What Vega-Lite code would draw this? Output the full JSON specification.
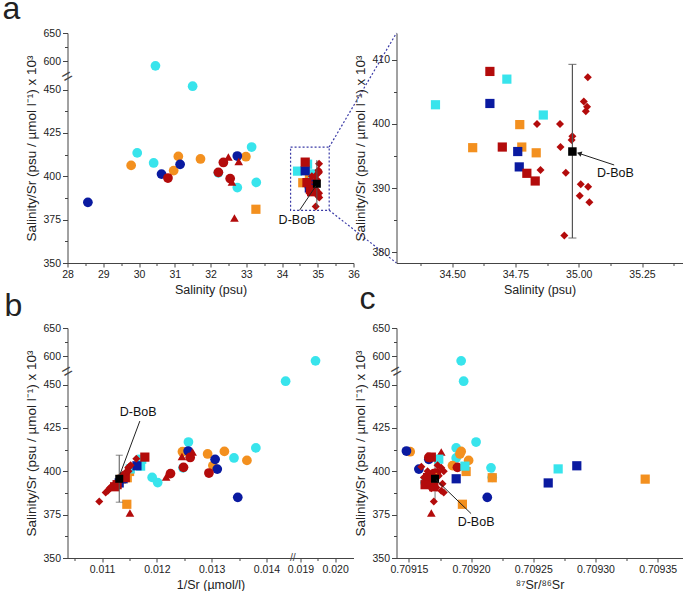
{
  "$schema": "https://vega.github.io/schema/vega-lite/v6.json",
  "background": "white",
  "padding": {"left": 2.5, "top": -7, "right": 2, "bottom": 0},
  "bounds": "flush",
  "columns": 2,
  "spacing": {"row": 65, "column": 43},
  "config": {
    "font": "Liberation Sans",
    "view": {"stroke": null},
    "axis": {"labelFont": "Liberation Sans", "labelFontSize": 10.5, "labelColor": "#222", "titleFont": "Liberation Sans", "titleFontSize": 12.5, "titleFontWeight": "normal", "titleColor": "#222", "domainColor": "#444", "tickColor": "#444", "grid": false, "tickSize": 4, "labelPadding": 2, "titlePadding": 4, "labelOverlap": false, "labelFlush": false, "tickCount": 60},
    "axisY": {"titleFontSize": 13.5},
    "title": {"font": "Liberation Sans", "fontSize": 32, "fontWeight": "normal", "color": "#222"}
  },
  "datasets": {
    "pts": [
      {"c":"cyan","s":"circle","S":30.46,"R":592,"inv":0.019435,"iso":0.709192},
      {"c":"cyan","s":"circle","S":31.50,"R":452,"inv":0.014349,"iso":0.709194},
      {"c":"cyan","s":"circle","S":29.95,"R":413.5,"inv":0.013806,"iso":0.709188},
      {"c":"cyan","s":"circle","S":30.41,"R":407.7,"inv":0.013407,"iso":0.709188},
      {"c":"cyan","s":"circle","S":32.22,"R":402,"inv":0.012477,"iso":0.709216},
      {"c":"cyan","s":"circle","S":32.75,"R":393.5,"inv":0.012015,"iso":0.709163},
      {"c":"cyan","s":"circle","S":33.15,"R":416.9,"inv":0.012576,"iso":0.709204},
      {"c":"cyan","s":"circle","S":33.28,"R":396.5,"inv":0.011914,"iso":0.709217},
      {"c":"orange","s":"circle","S":29.78,"R":406.3,"inv":0.013643,"iso":0.709198},
      {"c":"orange","s":"circle","S":30.97,"R":403.3,"inv":0.013022,"iso":0.709185},
      {"c":"orange","s":"circle","S":31.10,"R":411.5,"inv":0.013232,"iso":0.709192},
      {"c":"orange","s":"circle","S":31.72,"R":410,"inv":0.012926,"iso":0.709191},
      {"c":"orange","s":"circle","S":32.99,"R":411.3,"inv":0.012467,"iso":0.709151},
      {"c":"blue","s":"circle","S":28.57,"R":385,"inv":0.013476,"iso":0.709213},
      {"c":"blue","s":"circle","S":30.63,"R":401.3,"inv":0.013102,"iso":0.709158},
      {"c":"blue","s":"circle","S":31.15,"R":406.9,"inv":0.013063,"iso":0.709166},
      {"c":"blue","s":"circle","S":32.75,"R":411.7,"inv":0.012571,"iso":0.709148},
      {"c":"red","s":"circle","S":30.81,"R":399,"inv":0.012950,"iso":0.709172},
      {"c":"red","s":"circle","S":32.22,"R":402.3,"inv":0.012486,"iso":0.709189},
      {"c":"red","s":"circle","S":32.36,"R":408,"inv":0.012608,"iso":0.709166},
      {"c":"red","s":"circle","S":32.55,"R":398.7,"inv":0.012249,"iso":0.709170},
      {"c":"red","s":"triangle","S":32.50,"R":411.2,"inv":0.012652,"iso":0.709176},
      {"c":"red","s":"triangle","S":32.60,"R":396.7,"inv":0.012169,"iso":0.709165},
      {"c":"red","s":"triangle","S":32.67,"R":376,"inv":0.011509,"iso":0.709168},
      {"c":"red","s":"triangle","S":32.79,"R":408.5,"inv":0.012458,"iso":0.709174},
      {"c":"orange","s":"square","S":33.27,"R":381,"inv":0.011452,"iso":0.709193},
      {"c":"orange","s":"square","S":34.767,"R":399.9,"inv":0.011502,"iso":0.709196},
      {"c":"orange","s":"square","S":34.581,"R":396.3,"inv":0.011460,"iso":0.709217},
      {"c":"orange","s":"square","S":34.775,"R":396.4,"inv":0.011399,"iso":0.709170},
      {"c":"orange","s":"square","S":34.832,"R":395.5,"inv":0.011355,"iso":0.709340},
      {"c":"cyan","s":"square","S":34.716,"R":407.0,"inv":0.011724,"iso":0.709174},
      {"c":"cyan","s":"square","S":34.434,"R":403.0,"inv":0.011704,"iso":0.709195},
      {"c":"cyan","s":"square","S":34.86,"R":401.4,"inv":0.011515,"iso":0.709270},
      {"c":"blue","s":"square","S":34.649,"R":403.2,"inv":0.011637,"iso":0.709285},
      {"c":"blue","s":"square","S":34.759,"R":395.7,"inv":0.011384,"iso":0.709188},
      {"c":"blue","s":"square","S":34.765,"R":393.3,"inv":0.011313,"iso":0.709262},
      {"c":"red","s":"square","S":34.649,"R":408.2,"inv":0.011781,"iso":0.709168},
      {"c":"red","s":"square","S":34.698,"R":396.4,"inv":0.011424,"iso":0.709165},
      {"c":"red","s":"square","S":34.795,"R":392.3,"inv":0.011275,"iso":0.709163},
      {"c":"red","s":"square","S":34.828,"R":391.1,"inv":0.011230,"iso":0.709170},
      {"c":"red","s":"diamond","S":35.036,"R":407.3,"inv":0.011625,"iso":0.709167},
      {"c":"red","s":"diamond","S":35.02,"R":403.5,"inv":0.011522,"iso":0.709173},
      {"c":"red","s":"diamond","S":35.033,"R":402.7,"inv":0.011495,"iso":0.709160},
      {"c":"red","s":"diamond","S":35.028,"R":402.0,"inv":0.011477,"iso":0.709176},
      {"c":"red","s":"diamond","S":34.835,"R":400.0,"inv":0.011483,"iso":0.709178},
      {"c":"red","s":"diamond","S":34.926,"R":400.0,"inv":0.011453,"iso":0.709165},
      {"c":"red","s":"diamond","S":34.975,"R":398.1,"inv":0.011382,"iso":0.709169},
      {"c":"red","s":"diamond","S":34.972,"R":397.5,"inv":0.011366,"iso":0.709174},
      {"c":"red","s":"diamond","S":34.928,"R":396.4,"inv":0.011349,"iso":0.709162},
      {"c":"red","s":"diamond","S":34.849,"R":392.8,"inv":0.011271,"iso":0.709177},
      {"c":"red","s":"diamond","S":34.949,"R":392.4,"inv":0.011228,"iso":0.709166},
      {"c":"red","s":"diamond","S":35.008,"R":390.6,"inv":0.011157,"iso":0.709172},
      {"c":"red","s":"diamond","S":35.037,"R":390.2,"inv":0.011137,"iso":0.709168},
      {"c":"red","s":"diamond","S":35.004,"R":388.8,"inv":0.011107,"iso":0.709176},
      {"c":"red","s":"diamond","S":35.042,"R":387.8,"inv":0.011067,"iso":0.709178},
      {"c":"red","s":"diamond","S":34.943,"R":382.6,"inv":0.010949,"iso":0.709170}
    ],
    "dbob": [{"S":34.975,"R":395.7,"inv":0.011314,"iso":0.709171,"lo":382.2,"hi":409.3}]
  },
  "concat": [
    {
      "width": 286, "height": 230,
      "title": {"text": "a", "anchor": "start", "frame": "group", "dx": -65, "offset": -30, "baseline": "bottom"},
      "layer": [
        {
          "data": {"values": [{"x1":34.24,"x2":35.32,"y1":380.4,"y2":416.9}]},
          "mark": {"type": "rect", "fill": null, "stroke": "#3a3aa6", "strokeDash": [2, 2], "strokeWidth": 1.2},
          "encoding": {
            "x": {"field": "x1", "type": "quantitative",
              "scale": {"domain": [28, 36], "nice": false, "zero": false},
              "axis": {"values": [28,28.5,29,29.5,30,30.5,31,31.5,32,32.5,33,33.5,34,34.5,35,35.5,36], "format": ".0f", "tickCount": 60,
                "labelExpr": "datum.value % 1 == 0 ? datum.label : ''",
                "tickSize": {"condition": {"test": "datum.value % 1 == 0", "value": 4}, "value": 2.5},
                "title": "Salinity (psu)"}},
            "x2": {"field": "x2"},
            "y": {"field": "y1", "type": "quantitative",
              "scale": {"domain": [350, 457.3, 572.3, 650], "range": [230, 44, 44, 0], "nice": false, "zero": false},
              "axis": {"values": [350,362.5,375,387.5,400,412.5,425,437.5,450,600,625,650], "format": ".0f", "tickCount": 60,
                "labelExpr": "(datum.value % 25 == 0 && datum.value != 625) ? datum.label : ''",
                "tickSize": {"condition": {"test": "datum.value % 25 == 0 && datum.value != 625", "value": 5}, "value": 3},
                "title": "Salinity/Sr (psu / µmol l⁻¹) x 10³"}},
            "y2": {"field": "y2"}
          }
        },
        {
          "data": {"values": [{"x1":35.32,"x2":37.203,"y1":416.9,"y2":650},{"x1":35.32,"x2":37.203,"y1":380.4,"y2":350}]},
          "mark": {"type": "rule", "stroke": "#3a3aa6", "strokeDash": [2, 2], "strokeWidth": 1.2},
          "encoding": {"x": {"field": "x1", "type": "quantitative"}, "x2": {"field": "x2"}, "y": {"field": "y1", "type": "quantitative"}, "y2": {"field": "y2"}}
        },
        {
          "data": {"name": "pts"},
          "mark": {"type": "point", "filled": true, "opacity": 1},
          "encoding": {
            "x": {"field": "S", "type": "quantitative"},
            "y": {"field": "R", "type": "quantitative"},
            "color": {"field": "c", "type": "nominal", "legend": null, "scale": {"domain": ["cyan","orange","blue","red"], "range": ["#38E4EC","#F3901F","#0A1AA0","#B30B0B"]}},
            "shape": {"field": "s", "type": "nominal", "legend": null, "scale": {"domain": ["circle","square","triangle","diamond"], "range": ["circle","square","triangle-up","diamond"]}},
            "size": {"field": "s", "type": "nominal", "legend": null, "scale": {"domain": ["circle","square","triangle","diamond"], "range": [95, 64, 80, 80]}}
          }
        },
        {
          "data": {"name": "dbob"},
          "mark": {"type": "rule", "stroke": "#555", "strokeWidth": 1},
          "encoding": {"x": {"field": "S", "type": "quantitative"}, "y": {"field": "lo", "type": "quantitative"}, "y2": {"field": "hi"}}
        },
        {
          "data": {"name": "dbob"},
          "mark": {"type": "square", "color": "#000", "size": 64, "opacity": 1},
          "encoding": {"x": {"field": "S", "type": "quantitative"}, "y": {"field": "R", "type": "quantitative"}}
        },
        {
          "data": {"values": [{"x1":34.49,"x2":34.95,"y1":380.4,"y2":394.5}]},
          "mark": {"type": "rule", "stroke": "#222", "strokeWidth": 1},
          "encoding": {"x": {"field": "x1", "type": "quantitative"}, "x2": {"field": "x2"}, "y": {"field": "y1", "type": "quantitative"}, "y2": {"field": "y2"}}
        },
        {
          "data": {"values": [{"x": 34.42, "y": 374.6, "t": "D-BoB"}]},
          "mark": {"type": "text", "fontSize": 12.5, "color": "#111", "align": "center", "baseline": "middle"},
          "encoding": {"x": {"field": "x", "type": "quantitative"}, "y": {"field": "y", "type": "quantitative"}, "text": {"field": "t"}}
        },
        {
          "data": {"values": [{"x": 28, "y": 515, "t": "="}]},
          "mark": {"type": "text", "fontSize": 18, "color": "#444", "align": "center", "baseline": "middle", "angle": -30},
          "encoding": {"x": {"field": "x", "type": "quantitative"}, "y": {"field": "y", "type": "quantitative"}, "text": {"field": "t"}}
        }
      ]
    },
    {
      "width": 286, "height": 230,
      "layer": [
        {
          "data": {"name": "pts"},
          "transform": [{"filter": "datum.S > 34.3"}],
          "mark": {"type": "point", "filled": true, "opacity": 1},
          "encoding": {
            "x": {"field": "S", "type": "quantitative",
              "scale": {"domain": [34.28, 35.41], "nice": false, "zero": false},
              "axis": {"values": [34.375,34.5,34.625,34.75,34.875,35,35.125,35.25,35.375], "format": ".2f", "tickCount": 60,
                "labelExpr": "abs(datum.value*4 - round(datum.value*4)) < 0.001 ? datum.label : ''",
                "tickSize": {"condition": {"test": "abs(datum.value*4 - round(datum.value*4)) < 0.001", "value": 4}, "value": 2.5},
                "title": "Salinity (psu)"}},
            "y": {"field": "R", "type": "quantitative",
              "scale": {"domain": [378.3, 414.2], "nice": false, "zero": false},
              "axis": {"values": [380,385,390,395,400,405,410], "format": ".0f", "tickCount": 60,
                "labelExpr": "datum.value % 10 == 0 ? datum.label : ''",
                "tickSize": {"condition": {"test": "datum.value % 10 == 0", "value": 5}, "value": 3},
                "title": "Salinity/Sr (psu / µmol l⁻¹) x 10³"}},
            "color": {"field": "c", "type": "nominal", "legend": null, "scale": {"domain": ["cyan","orange","blue","red"], "range": ["#38E4EC","#F3901F","#0A1AA0","#B30B0B"]}},
            "shape": {"field": "s", "type": "nominal", "legend": null, "scale": {"domain": ["circle","square","triangle","diamond"], "range": ["circle","square","triangle-up","diamond"]}},
            "size": {"field": "s", "type": "nominal", "legend": null, "scale": {"domain": ["circle","square","triangle","diamond"], "range": [95, 64, 80, 80]}}
          }
        },
        {
          "data": {"name": "dbob"},
          "mark": {"type": "rule", "stroke": "#555", "strokeWidth": 1.2},
          "encoding": {"x": {"field": "S", "type": "quantitative"}, "y": {"field": "lo", "type": "quantitative"}, "y2": {"field": "hi"}}
        },
        {
          "data": {"name": "dbob"},
          "mark": {"type": "tick", "orient": "horizontal", "color": "#555", "size": 8, "thickness": 1.2},
          "encoding": {"x": {"field": "S", "type": "quantitative"}, "y": {"field": "lo", "type": "quantitative"}}
        },
        {
          "data": {"name": "dbob"},
          "mark": {"type": "tick", "orient": "horizontal", "color": "#555", "size": 8, "thickness": 1.2},
          "encoding": {"x": {"field": "S", "type": "quantitative"}, "y": {"field": "hi", "type": "quantitative"}}
        },
        {
          "data": {"name": "dbob"},
          "mark": {"type": "square", "color": "#000", "size": 72, "opacity": 1},
          "encoding": {"x": {"field": "S", "type": "quantitative"}, "y": {"field": "R", "type": "quantitative"}}
        },
        {
          "data": {"values": [{"x1":35.14,"x2":34.998,"y1":393.6,"y2":395.45}]},
          "mark": {"type": "rule", "stroke": "#222", "strokeWidth": 1},
          "encoding": {"x": {"field": "x1", "type": "quantitative"}, "x2": {"field": "x2"}, "y": {"field": "y1", "type": "quantitative"}, "y2": {"field": "y2"}}
        },
        {
          "data": {"values": [{"x": 35.002, "y": 395.4}]},
          "mark": {"type": "point", "shape": "triangle-left", "filled": true, "color": "#222", "size": 30, "angle": 18, "opacity": 1},
          "encoding": {"x": {"field": "x", "type": "quantitative"}, "y": {"field": "y", "type": "quantitative"}}
        },
        {
          "data": {"values": [{"x": 35.145, "y": 392.4, "t": "D-BoB"}]},
          "mark": {"type": "text", "fontSize": 12.5, "color": "#111", "align": "center", "baseline": "middle"},
          "encoding": {"x": {"field": "x", "type": "quantitative"}, "y": {"field": "y", "type": "quantitative"}, "text": {"field": "t"}}
        }
      ]
    },
    {
      "width": 286, "height": 230,
      "title": {"text": "b", "anchor": "start", "frame": "group", "dx": -63, "offset": -31.5, "baseline": "bottom"},
      "layer": [
        {
          "data": {"name": "pts"},
          "mark": {"type": "point", "filled": true, "opacity": 1},
          "encoding": {
            "x": {"field": "inv", "type": "quantitative",
              "scale": {"domain": [0.01037, 0.01448, 0.01878, 0.02053], "range": [0, 225.3, 225.3, 286], "nice": false, "zero": false},
              "axis": {"values": [0.0105,0.011,0.0115,0.012,0.0125,0.013,0.0135,0.014,0.019,0.0195,0.020], "format": ".3f", "tickCount": 60,
                "labelExpr": "abs(datum.value*1000 - round(datum.value*1000)) < 0.001 ? datum.label : ''",
                "tickSize": {"condition": {"test": "abs(datum.value*1000 - round(datum.value*1000)) < 0.001", "value": 4}, "value": 2.5},
                "title": "1/Sr (µmol/l)"}},
            "y": {"field": "R", "type": "quantitative",
              "scale": {"domain": [350, 457.3, 572.3, 650], "range": [230, 44, 44, 0], "nice": false, "zero": false},
              "axis": {"values": [350,362.5,375,387.5,400,412.5,425,437.5,450,600,625,650], "format": ".0f", "tickCount": 60,
                "labelExpr": "(datum.value % 25 == 0 && datum.value != 625) ? datum.label : ''",
                "tickSize": {"condition": {"test": "datum.value % 25 == 0 && datum.value != 625", "value": 5}, "value": 3},
                "title": "Salinity/Sr (psu / µmol l⁻¹) x 10³"}},
            "color": {"field": "c", "type": "nominal", "legend": null, "scale": {"domain": ["cyan","orange","blue","red"], "range": ["#38E4EC","#F3901F","#0A1AA0","#B30B0B"]}},
            "shape": {"field": "s", "type": "nominal", "legend": null, "scale": {"domain": ["circle","square","triangle","diamond"], "range": ["circle","square","triangle-up","diamond"]}},
            "size": {"field": "s", "type": "nominal", "legend": null, "scale": {"domain": ["circle","square","triangle","diamond"], "range": [95, 64, 80, 80]}}
          }
        },
        {
          "data": {"name": "dbob"},
          "mark": {"type": "rule", "stroke": "#555", "strokeWidth": 1},
          "encoding": {"x": {"field": "inv", "type": "quantitative"}, "y": {"field": "lo", "type": "quantitative"}, "y2": {"field": "hi"}}
        },
        {
          "data": {"name": "dbob"},
          "mark": {"type": "tick", "orient": "horizontal", "color": "#555", "size": 7, "thickness": 1},
          "encoding": {"x": {"field": "inv", "type": "quantitative"}, "y": {"field": "lo", "type": "quantitative"}}
        },
        {
          "data": {"name": "dbob"},
          "mark": {"type": "tick", "orient": "horizontal", "color": "#555", "size": 7, "thickness": 1},
          "encoding": {"x": {"field": "inv", "type": "quantitative"}, "y": {"field": "hi", "type": "quantitative"}}
        },
        {
          "data": {"name": "dbob"},
          "mark": {"type": "square", "color": "#000", "size": 64, "opacity": 1},
          "encoding": {"x": {"field": "inv", "type": "quantitative"}, "y": {"field": "R", "type": "quantitative"}}
        },
        {
          "data": {"values": [{"x1":0.01169,"x2":0.01133,"y1":429,"y2":398.5}]},
          "mark": {"type": "rule", "stroke": "#222", "strokeWidth": 1},
          "encoding": {"x": {"field": "x1", "type": "quantitative"}, "x2": {"field": "x2"}, "y": {"field": "y1", "type": "quantitative"}, "y2": {"field": "y2"}}
        },
        {
          "data": {"values": [{"x": 0.011659, "y": 434, "t": "D-BoB"}]},
          "mark": {"type": "text", "fontSize": 12.5, "color": "#111", "align": "center", "baseline": "middle"},
          "encoding": {"x": {"field": "x", "type": "quantitative"}, "y": {"field": "y", "type": "quantitative"}, "text": {"field": "t"}}
        },
        {
          "data": {"values": [{"x": 0.01037, "y": 515, "t": "="}]},
          "mark": {"type": "text", "fontSize": 18, "color": "#444", "align": "center", "baseline": "middle", "angle": -30},
          "encoding": {"x": {"field": "x", "type": "quantitative"}, "y": {"field": "y", "type": "quantitative"}, "text": {"field": "t"}}
        },
        {
          "data": {"values": [{"x": 0.0166, "y": 350, "t": "//"}]},
          "mark": {"type": "text", "fontSize": 10.5, "color": "#444", "align": "center", "baseline": "middle"},
          "encoding": {"x": {"field": "x", "type": "quantitative"}, "y": {"field": "y", "type": "quantitative"}, "text": {"field": "t"}}
        }
      ]
    },
    {
      "width": 286, "height": 230,
      "title": {"text": "c", "anchor": "start", "frame": "group", "dx": -37, "offset": -25, "baseline": "bottom"},
      "layer": [
        {
          "data": {"name": "dbob"},
          "mark": {"type": "rule", "stroke": "#777", "strokeWidth": 1},
          "encoding": {"x": {"field": "iso", "type": "quantitative"}, "y": {"field": "lo", "type": "quantitative"}, "y2": {"field": "hi"}}
        },
        {
          "data": {"name": "pts"},
          "mark": {"type": "point", "filled": true, "opacity": 1},
          "encoding": {
            "x": {"field": "iso", "type": "quantitative",
              "scale": {"domain": [0.70914, 0.70937], "nice": false, "zero": false},
              "axis": {"values": [0.70915,0.709175,0.7092,0.709225,0.70925,0.709275,0.7093,0.709325,0.70935], "format": ".5f", "tickCount": 60,
                "labelExpr": "abs(datum.value*20000 - round(datum.value*20000)) < 0.01 ? datum.label : ''",
                "tickSize": {"condition": {"test": "abs(datum.value*20000 - round(datum.value*20000)) < 0.01", "value": 4}, "value": 2.5},
                "title": "⁸⁷Sr/⁸⁶Sr"}},
            "y": {"field": "R", "type": "quantitative",
              "scale": {"domain": [350, 457.3, 572.3, 650], "range": [230, 44, 44, 0], "nice": false, "zero": false},
              "axis": {"values": [350,362.5,375,387.5,400,412.5,425,437.5,450,600,625,650], "format": ".0f", "tickCount": 60,
                "labelExpr": "(datum.value % 25 == 0 && datum.value != 625) ? datum.label : ''",
                "tickSize": {"condition": {"test": "datum.value % 25 == 0 && datum.value != 625", "value": 5}, "value": 3},
                "title": "Salinity/Sr (psu / µmol l⁻¹) x 10³"}},
            "color": {"field": "c", "type": "nominal", "legend": null, "scale": {"domain": ["cyan","orange","blue","red"], "range": ["#38E4EC","#F3901F","#0A1AA0","#B30B0B"]}},
            "shape": {"field": "s", "type": "nominal", "legend": null, "scale": {"domain": ["circle","square","triangle","diamond"], "range": ["circle","square","triangle-up","diamond"]}},
            "size": {"field": "s", "type": "nominal", "legend": null, "scale": {"domain": ["circle","square","triangle","diamond"], "range": [95, 64, 80, 80]}}
          }
        },
        {
          "data": {"name": "dbob"},
          "mark": {"type": "square", "color": "#000", "size": 64, "opacity": 1},
          "encoding": {"x": {"field": "iso", "type": "quantitative"}, "y": {"field": "R", "type": "quantitative"}}
        },
        {
          "data": {"values": [{"x1":0.709172,"x2":0.7092,"y1":395,"y2":375.6}]},
          "mark": {"type": "rule", "stroke": "#222", "strokeWidth": 1},
          "encoding": {"x": {"field": "x1", "type": "quantitative"}, "x2": {"field": "x2"}, "y": {"field": "y1", "type": "quantitative"}, "y2": {"field": "y2"}}
        },
        {
          "data": {"values": [{"x": 0.709204, "y": 370.8, "t": "D-BoB"}]},
          "mark": {"type": "text", "fontSize": 12.5, "color": "#111", "align": "center", "baseline": "middle"},
          "encoding": {"x": {"field": "x", "type": "quantitative"}, "y": {"field": "y", "type": "quantitative"}, "text": {"field": "t"}}
        },
        {
          "data": {"values": [{"x": 0.70914, "y": 515, "t": "="}]},
          "mark": {"type": "text", "fontSize": 18, "color": "#444", "align": "center", "baseline": "middle", "angle": -30},
          "encoding": {"x": {"field": "x", "type": "quantitative"}, "y": {"field": "y", "type": "quantitative"}, "text": {"field": "t"}}
        }
      ]
    }
  ]
}
